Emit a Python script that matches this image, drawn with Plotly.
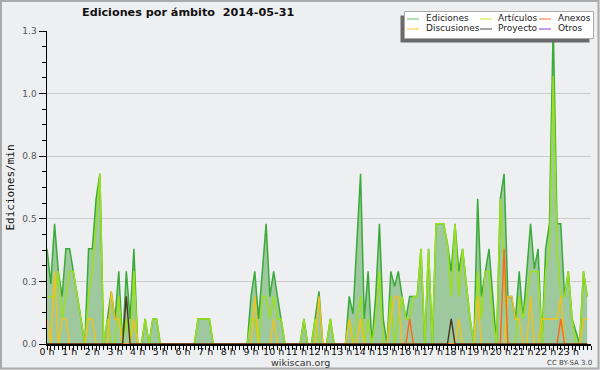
import plotly.graph_objects as go

# ---------------- data (10-minute bins, values in edits/min) ----------------
hour_labels = [f"{h} h" for h in range(24)]
hour_ticks = list(range(24))
y_ticks = [0, 0.25, 0.5, 0.75, 1.0, 1.25]
y_tick_labels = ["0.0", "0.3", "0.5", "0.8", "1.0", "1.3"]

ediciones = [
    0.38, 0.24, 0.48, 0.29, 0.19, 0.38,   # 0h
    0.38, 0.29, 0.19, 0.10, 0.00, 0.38,   # 1h
    0.38, 0.58, 0.68, 0.00, 0.10, 0.21,   # 2h
    0.10, 0.29, 0.00, 0.29, 0.10, 0.38,   # 3h
    0.00, 0.00, 0.10, 0.00, 0.10, 0.10,   # 4h
    0.00, 0.00, 0.00, 0.00, 0.00, 0.00,   # 5h
    0.00, 0.00, 0.00, 0.00, 0.10, 0.10,   # 6h
    0.10, 0.10, 0.00, 0.00, 0.00, 0.00,   # 7h
    0.00, 0.00, 0.00, 0.00, 0.00, 0.00,   # 8h
    0.19, 0.29, 0.10, 0.29, 0.48, 0.19,   # 9h
    0.29, 0.19, 0.10, 0.00, 0.00, 0.00,   # 10h
    0.00, 0.00, 0.10, 0.00, 0.00, 0.10,   # 11h
    0.21, 0.00, 0.00, 0.10, 0.00, 0.00,   # 12h
    0.00, 0.00, 0.19, 0.12, 0.40, 0.68,   # 13h
    0.10, 0.29, 0.00, 0.19, 0.48, 0.10,   # 14h
    0.00, 0.29, 0.23, 0.29, 0.19, 0.10,   # 15h
    0.19, 0.19, 0.19, 0.38, 0.00, 0.38,   # 16h
    0.00, 0.48, 0.48, 0.48, 0.40, 0.29,   # 17h
    0.48, 0.29, 0.38, 0.24, 0.10, 0.00,   # 18h
    0.58, 0.19, 0.29, 0.38, 0.19, 0.00,   # 19h
    0.58, 0.68, 0.19, 0.19, 0.10, 0.29,   # 20h
    0.10, 0.30, 0.48, 0.30, 0.38, 0.00,   # 21h
    0.38, 0.48, 1.28, 0.48, 0.48, 0.19,   # 22h
    0.29, 0.10, 0.05, 0.00, 0.29, 0.19,   # 23h
]

articulos = [
    0.19, 0.19, 0.19, 0.29, 0.10, 0.19,   # 0h
    0.29, 0.29, 0.19, 0.10, 0.00, 0.19,   # 1h
    0.29, 0.48, 0.68, 0.00, 0.10, 0.00,   # 2h
    0.00, 0.19, 0.00, 0.10, 0.00, 0.29,   # 3h
    0.00, 0.00, 0.10, 0.00, 0.10, 0.10,   # 4h
    0.00, 0.00, 0.00, 0.00, 0.00, 0.00,   # 5h
    0.00, 0.00, 0.00, 0.00, 0.10, 0.10,   # 6h
    0.10, 0.10, 0.00, 0.00, 0.00, 0.00,   # 7h
    0.00, 0.00, 0.00, 0.00, 0.00, 0.00,   # 8h
    0.10, 0.10, 0.00, 0.19, 0.19, 0.10,   # 9h
    0.19, 0.10, 0.10, 0.00, 0.00, 0.00,   # 10h
    0.00, 0.00, 0.10, 0.00, 0.00, 0.10,   # 11h
    0.00, 0.00, 0.00, 0.10, 0.00, 0.00,   # 12h
    0.00, 0.00, 0.10, 0.00, 0.10, 0.19,   # 13h
    0.00, 0.10, 0.00, 0.10, 0.29, 0.00,   # 14h
    0.00, 0.19, 0.00, 0.10, 0.19, 0.10,   # 15h
    0.10, 0.19, 0.19, 0.38, 0.00, 0.38,   # 16h
    0.00, 0.48, 0.48, 0.48, 0.40, 0.19,   # 17h
    0.48, 0.19, 0.38, 0.24, 0.10, 0.00,   # 18h
    0.29, 0.10, 0.29, 0.29, 0.10, 0.00,   # 19h
    0.58, 0.29, 0.00, 0.00, 0.00, 0.19,   # 20h
    0.10, 0.19, 0.29, 0.29, 0.29, 0.00,   # 21h
    0.29, 0.38, 1.07, 0.38, 0.19, 0.19,   # 22h
    0.29, 0.10, 0.00, 0.00, 0.29, 0.19,   # 23h
]

discusiones = [
    0.10, 0.00, 0.29, 0.00, 0.10, 0.10,   # 0h
    0.00, 0.00, 0.00, 0.00, 0.00, 0.10,   # 1h
    0.10, 0.00, 0.00, 0.00, 0.00, 0.21,   # 2h
    0.10, 0.10, 0.00, 0.00, 0.00, 0.10,   # 3h
    0.00, 0.00, 0.00, 0.00, 0.00, 0.00,   # 4h
    0.00, 0.00, 0.00, 0.00, 0.00, 0.00,   # 5h
    0.00, 0.00, 0.00, 0.00, 0.00, 0.00,   # 6h
    0.00, 0.00, 0.00, 0.00, 0.00, 0.00,   # 7h
    0.00, 0.00, 0.00, 0.00, 0.00, 0.00,   # 8h
    0.00, 0.19, 0.00, 0.00, 0.00, 0.00,   # 9h
    0.10, 0.00, 0.00, 0.00, 0.00, 0.00,   # 10h
    0.00, 0.00, 0.00, 0.00, 0.00, 0.00,   # 11h
    0.19, 0.00, 0.00, 0.00, 0.00, 0.00,   # 12h
    0.00, 0.00, 0.10, 0.00, 0.00, 0.10,   # 13h
    0.00, 0.00, 0.00, 0.00, 0.00, 0.00,   # 14h
    0.00, 0.10, 0.19, 0.19, 0.00, 0.00,   # 15h
    0.00, 0.00, 0.00, 0.00, 0.00, 0.00,   # 16h
    0.00, 0.00, 0.00, 0.00, 0.00, 0.00,   # 17h
    0.00, 0.10, 0.00, 0.00, 0.00, 0.00,   # 18h
    0.19, 0.00, 0.00, 0.00, 0.00, 0.00,   # 19h
    0.00, 0.00, 0.19, 0.19, 0.10, 0.10,   # 20h
    0.00, 0.00, 0.19, 0.00, 0.00, 0.10,   # 21h
    0.10, 0.10, 0.10, 0.10, 0.19, 0.00,   # 22h
    0.00, 0.00, 0.00, 0.00, 0.10, 0.10,   # 23h
]

anexos = [0.0] * 144
anexos_points = {96: 0.10, 121: 0.38, 136: 0.10}
for k, v in anexos_points.items():
    anexos[k] = v

proyecto = [0.0] * 144
proyecto_points = {21: 0.19, 107: 0.10}
for k, v in proyecto_points.items():
    proyecto[k] = v

otros = [0.0] * 144

minutes = [i * 10 for i in range(144)]
hours = [m / 60 for m in minutes]

series_names = ["Ediciones", "Artículos", "Anexos", "Discusiones", "Proyecto", "Otros"]

# ---------------- styling ----------------
BG = "#eeeff1"
L, R, T, B = 47, 9, 31, 26
W, H = 600, 370
PW, PH = W - L - R, H - T - B


def px(x):
    return (x - L) / PW


def py(y):
    return (H - B - y) / PH


fig = go.Figure()

fig.add_trace(go.Scatter(x=hours, y=otros, mode="lines", line=dict(color="#9040e0", width=1.4),
                         name="Otros", showlegend=False, hoverinfo="skip"))
fig.add_trace(go.Scatter(x=hours, y=ediciones, mode="lines", fill="tozeroy",
                         fillcolor="#9ec99e", line=dict(color="#3aaa3a", width=1.5),
                         name="Ediciones", showlegend=False))
fig.add_trace(go.Scatter(x=hours, y=articulos, mode="lines", line=dict(color="#9be01c", width=1.5),
                         name="Artículos", showlegend=False))
fig.add_trace(go.Scatter(x=hours, y=discusiones, mode="lines", line=dict(color="#f2c21a", width=1.4),
                         name="Discusiones", showlegend=False))
fig.add_trace(go.Scatter(x=hours, y=anexos, mode="lines", line=dict(color="#ff6619", width=1.4),
                         name="Anexos", showlegend=False))
fig.add_trace(go.Scatter(x=hours, y=proyecto, mode="lines", line=dict(color="#4a3322", width=1.4),
                         name="Proyecto", showlegend=False))

shapes = []
annotations = []

# outer frame
shapes.append(dict(type="rect", xref="paper", yref="paper",
                   x0=px(1), x1=px(598.5), y0=py(368.5), y1=py(1),
                   line=dict(color="#aaaaaa", width=2), fillcolor="rgba(0,0,0,0)", layer="below"))

# legend box (shadow + white box)
shapes.append(dict(type="rect", xref="paper", yref="paper",
                   x0=px(400.5), x1=px(589.5), y0=py(42.5), y1=py(15.5),
                   line=dict(width=0), fillcolor="#6a6a6a", layer="above"))
shapes.append(dict(type="rect", xref="paper", yref="paper",
                   x0=px(404.5), x1=px(593.5), y0=py(38.5), y1=py(11.5),
                   line=dict(color="#aaaaaa", width=1), fillcolor="#ffffff", layer="above"))

swatch_colors = ["#80cc80", "#c8ee50", "#ff8855", "#ffd24a", "#666666", "#9955ee"]
col_line_x = [(407, 419), (480, 492), (539, 551)]
col_text_x = [424, 496, 556]
row_y = [19, 29]
for idx, name in enumerate(series_names):
    r, c = divmod(idx, 3)
    x0, x1 = col_line_x[c]
    yy = row_y[r]
    shapes.append(dict(type="line", xref="paper", yref="paper",
                       x0=px(x0), x1=px(x1), y0=py(yy), y1=py(yy),
                       line=dict(color=swatch_colors[idx], width=1.2), layer="above"))
    annotations.append(dict(text=name, xref="paper", yref="paper", x=px(col_text_x[c]), y=py(yy - 0.5),
                            xanchor="left", yanchor="middle", showarrow=False,
                            font=dict(family="DejaVu Sans", size=9, color="#222222")))

# title
annotations.append(dict(text="<b>Ediciones por ámbito \u00a02014-05-31</b>", xref="paper", yref="paper",
                        x=px(188), y=py(13), xanchor="center", yanchor="middle", showarrow=False,
                        font=dict(family="DejaVu Sans", size=11.2, color="#111111")))
# y axis title
annotations.append(dict(text="Ediciones/min", xref="paper", yref="paper", x=px(10), y=0.5,
                        xanchor="center", yanchor="middle", textangle=-90, showarrow=False,
                        font=dict(family="DejaVu Sans Mono", size=11, color="#111111")))
# footer
annotations.append(dict(text="wikiscan.org", xref="paper", yref="paper", x=px(300), y=py(362),
                        xanchor="center", yanchor="middle", showarrow=False,
                        font=dict(family="DejaVu Sans", size=9.5, color="#333333")))
annotations.append(dict(text="CC BY-SA 3.0", xref="paper", yref="paper", x=px(569), y=py(362.5),
                        xanchor="center", yanchor="middle", showarrow=False,
                        font=dict(family="DejaVu Sans", size=7, color="#444444")))

fig.update_layout(
    width=W, height=H,
    margin=dict(l=L, r=R, t=T, b=B, pad=0),
    paper_bgcolor=BG, plot_bgcolor=BG,
    showlegend=False,
    shapes=shapes, annotations=annotations,
    xaxis=dict(range=[0, 24], tickmode="array", tickvals=hour_ticks, ticktext=hour_labels,
               tickangle=0, ticklabelstandoff=-6,
               ticks="outside", ticklen=4, tickwidth=1, tickcolor="#000000",
               showline=True, linecolor="#000000", linewidth=1.5, showgrid=False, zeroline=False,
               tickfont=dict(family="DejaVu Sans", size=9.5, color="#111111"),
               minor=dict(dtick=1 / 6, tick0=0, ticks="outside", ticklen=4, tickwidth=1,
                          tickcolor="#000000", showgrid=False),
               fixedrange=True, automargin=False),
    yaxis=dict(range=[0, 1.25], tickmode="array", tickvals=y_ticks, ticktext=y_tick_labels,
               ticks="outside", ticklen=7, tickwidth=1, tickcolor="#000000",
               showline=True, linecolor="#000000", linewidth=1.5,
               showgrid=True, gridcolor="#cccccc", gridwidth=1, zeroline=False,
               tickfont=dict(family="DejaVu Sans", size=9, color="#555555"),
               minor=dict(dtick=0.0625, tick0=0, ticks="outside", ticklen=4, tickwidth=1,
                          tickcolor="#000000", showgrid=False),
               fixedrange=True, automargin=False),
)

fig.write_html(
    "out.html",
    config={"displayModeBar": False, "staticPlot": True},
    post_script="document.body.style.margin='0';document.body.style.padding='0';"
                "document.body.style.overflow='hidden';",
)
